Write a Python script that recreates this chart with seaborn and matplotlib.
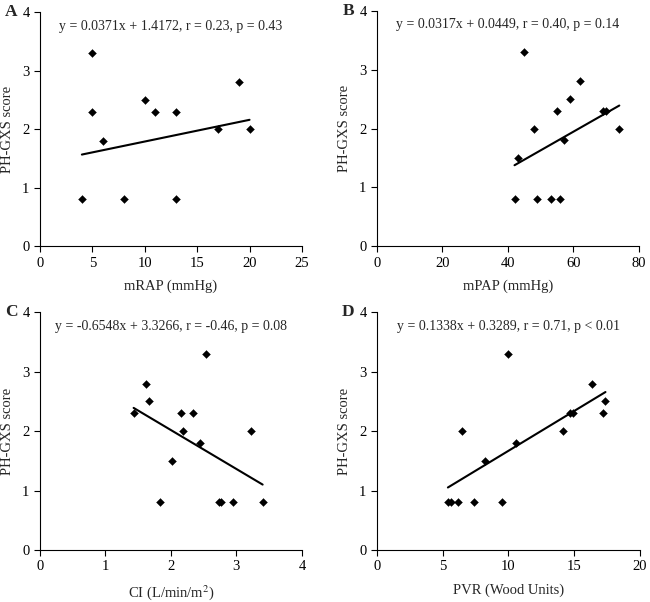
import matplotlib
matplotlib.use("Agg")
import matplotlib.pyplot as plt
import seaborn as sns
import numpy as np
import pandas as pd

# -----------------------------
# Data
# -----------------------------
score_label = "PH-GXS score"

rap_x = [4, 5, 5, 6, 8, 10, 11, 13, 13, 17, 19, 20]
rap_y = [0.8, 3.3, 2.3, 1.8, 0.8, 2.5, 2.3, 2.3, 0.8, 2.0, 2.8, 2.0]

pap_x = [42, 43, 45, 48, 49, 53, 55, 56, 57, 59, 62, 69, 70, 74]
pap_y = [0.8, 1.5, 3.3, 2.0, 0.8, 0.8, 2.3, 0.8, 1.8, 2.5, 2.8, 2.3, 2.3, 2.0]

ci_x = [1.43, 1.62, 1.67, 1.83, 2.01, 2.15, 2.19, 2.34, 2.44, 2.54, 2.74, 2.77, 2.94, 3.22, 3.40]
ci_y = [2.3, 2.8, 2.5, 0.8, 1.5, 2.3, 2.0, 2.3, 1.8, 3.3, 0.8, 0.8, 0.8, 2.0, 0.8]

pvr_x = [5.4, 5.6, 6.2, 6.5, 7.4, 8.2, 9.5, 10.0, 10.6, 14.2, 14.7, 14.9, 16.4, 17.2, 17.4]
pvr_y = [0.8, 0.8, 0.8, 2.0, 0.8, 1.5, 0.8, 3.3, 1.8, 2.0, 2.3, 2.3, 2.8, 2.3, 2.5]

panel_letters = ["A", "B", "C", "D"]
x_labels = ["mRAP (mmHg)", "mPAP (mmHg)", "CI (L/min/m$^2$)", "PVR (Wood Units)"]
equations = [
    "y = 0.0371x + 1.4172, r = 0.23, p = 0.43",
    "y = 0.0317x + 0.0449, r = 0.40, p = 0.14",
    "y = -0.6548x + 3.3266, r = -0.46, p = 0.08",
    "y = 0.1338x + 0.3289, r = 0.71, p < 0.01",
]
slopes = [0.0371, 0.0317, -0.6548, 0.1338]
intercepts = [1.4172, 0.0449, 3.3266, 0.3289]
x_limits = [(0, 25), (0, 80), (0, 4), (0, 20)]
x_ticks = [[0, 5, 10, 15, 20, 25], [0, 20, 40, 60, 80], [0, 1, 2, 3, 4], [0, 5, 10, 15, 20]]

xs = [rap_x, pap_x, ci_x, pvr_x]
ys = [rap_y, pap_y, ci_y, pvr_y]

# -----------------------------
# Figure
# -----------------------------
sns.set_style("ticks")
plt.rcParams['font.family'] = ['Liberation Serif', 'DejaVu Serif']
plt.rcParams['mathtext.fontset'] = 'stix'

fig = plt.figure(figsize=(6.5, 6.02), dpi=100)

positions = [
    [0.0615, 0.591, 0.403, 0.389],
    [0.580, 0.591, 0.403, 0.391],
    [0.0615, 0.0864, 0.403, 0.395],
    [0.580, 0.0864, 0.404, 0.395],
]

for i in range(4):
    ax = fig.add_axes(positions[i])
    df = pd.DataFrame({"x": xs[i], "y": ys[i]})

    sns.scatterplot(data=df, x="x", y="y", marker="D", s=16,
                    color="black", edgecolor="black", linewidth=0.3, ax=ax)

    # fitted line over the data range, using the stated equation
    x_line = np.array([min(xs[i]), max(xs[i])])
    y_line = slopes[i] * x_line + intercepts[i]
    sns.lineplot(x=x_line, y=y_line, color="black", linewidth=1.5, ax=ax)

    ax.set_xlim(*x_limits[i])
    ax.set_ylim(0, 4)
    ax.set_xticks(x_ticks[i])
    ax.set_yticks([0, 1, 2, 3, 4])
    ax.tick_params(direction="out", length=4, width=0.8, labelsize=10.5, colors="black")
    for side in ["left", "bottom"]:
        ax.spines[side].set_linewidth(0.8)
        ax.spines[side].set_color("black")
    sns.despine(ax=ax)

    ax.set_xlabel(x_labels[i], fontsize=10.5, labelpad=7)
    ax.set_ylabel(score_label, fontsize=10.5, labelpad=6)

    ax.text(0.5, 0.94, equations[i], transform=ax.transAxes,
            ha="center", va="center", fontsize=10)
    ax.text(-0.085, 1.0, panel_letters[i], transform=ax.transAxes,
            ha="right", va="center", fontsize=12.5, fontweight="bold")

plt.savefig("out.png", dpi=100)
